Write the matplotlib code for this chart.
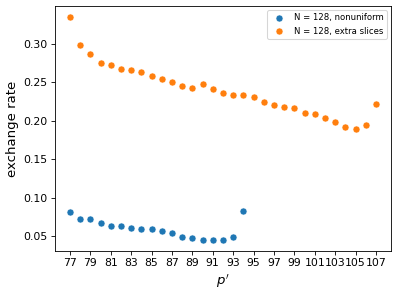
import matplotlib
matplotlib.use("Agg")
import matplotlib.pyplot as plt
import numpy as np

p_nonuniform = list(range(77, 95))
rate_nonuniform = [0.0815, 0.0726, 0.0726, 0.0666, 0.0628, 0.0628, 0.0602, 0.0585, 0.0585,
                   0.0560, 0.0534, 0.0491, 0.0479, 0.0453, 0.0449, 0.0449, 0.0491, 0.0828]

p_extra = list(range(77, 108))
rate_extra = [0.335, 0.298, 0.287, 0.275, 0.273, 0.267, 0.2656, 0.263, 0.258, 0.254, 0.250,
              0.2456, 0.2426, 0.2473, 0.2413, 0.2362, 0.2337, 0.2333, 0.2311, 0.2244, 0.220,
              0.2175, 0.2162, 0.2103, 0.209, 0.204, 0.1984, 0.192, 0.1886, 0.1938, 0.2218]

xticks = list(range(77, 108, 2))

DPI = 76
fig, ax = plt.subplots(figsize=(397 / DPI, 296 / DPI), dpi=DPI)
ax.scatter(p_nonuniform, rate_nonuniform, s=45, color="#1f77b4", edgecolors="white",
           linewidths=0.6, label="N = 128, nonuniform")
ax.scatter(p_extra, rate_extra, s=45, color="#ff7f0e", edgecolors="white",
           linewidths=0.6, label="N = 128, extra slices")
ax.set_xticks(xticks)
ax.tick_params(labelsize=10.3)
ax.set_xlabel(r"$p'$", fontsize=12.5)
ax.set_ylabel("exchange rate", fontsize=12.5)
ax.legend(loc="upper right", fontsize=8)
fig.tight_layout(pad=0.55)
fig.savefig("out.png", dpi=DPI)
